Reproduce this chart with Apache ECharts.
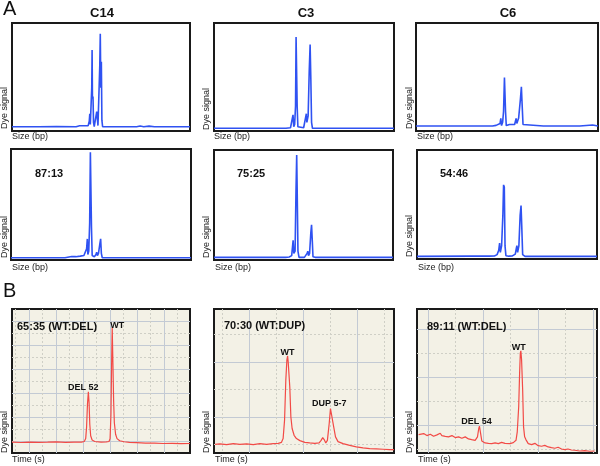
<!DOCTYPE html>
<html><head><meta charset="utf-8">
<script src="https://cdn.jsdelivr.net/npm/echarts@6/dist/echarts.min.js"></script>
<style>html,body{margin:0;padding:0;background:#fff}#c{width:600px;height:466px}</style>
</head><body><div id="c"></div>
<script>
// ---------- DATA ----------
const sectionLetters = ['A', 'B'];
const panelTitles = ['C14', 'C3', 'C6'];
const ratioLabelsA = ['87:13', '75:25', '54:46'];
const ratioLabelsB = ['65:35 (WT:DEL)', '70:30 (WT:DUP)', '89:11 (WT:DEL)'];
const axisNameY = 'Dye signal';
const axisNameXA = 'Size (bp)';
const axisNameXB = 'Time (s)';

// Panel A, row 1 (x: relative size position 0-100, y: relative dye signal 0-100)
const traceC14Top = [[0,4],[15,4],[25,4.2],[36,4],[38,4.8],[39,4],[40.5,4.8],[41.5,4],[42.8,5],[43.4,9],[43.7,16],[44.0,6],[44.4,5],[44.8,40],[45.0,75],[45.2,30],[45.5,32],[45.8,8],[46.2,4],[47.0,4.5],[47.6,18],[47.9,19],[48.3,5],[48.8,6],[49.3,60],[49.6,90],[49.9,40],[50.2,64],[50.5,10],[50.9,4],[53,4],[70,4],[72,4.6],[74,4],[77,4.5],[80,4],[100,4]];
const traceC3Top = [[0,2.5],[30,2.5],[40,2.5],[42.5,3],[43.3,3.5],[43.9,15],[44.3,4],[44.8,6],[45.3,23],[45.6,87],[45.9,86],[46.2,23],[46.6,4],[47.2,2.5],[49.8,3],[50.6,4],[51.3,16],[51.6,8],[52.3,14],[52.9,55],[53.4,80],[53.8,48],[54.2,8],[54.7,2.5],[56,2.5],[100,2.5]];
const traceC6Top = [[0,4.6],[32,4.6],[42,4.6],[44,5.2],[45,4.6],[46.2,7],[46.6,11.7],[47,5],[47.6,8],[48.1,18],[48.6,49.5],[48.9,48],[49.2,18],[49.6,5],[50.6,5],[51.4,6],[52.2,5],[54.2,6],[55.0,11.7],[55.4,7],[56.4,12],[57.4,30],[57.9,41],[58.3,25],[58.8,6],[59.5,4.6],[70,4.6],[90,4.6],[97,5.5],[98,4.6],[100,4.6]];
// Panel A, row 2
const traceC14Bot = [[0,2],[30,2],[33.7,3.2],[34.5,2],[36,3],[37,2],[38.5,3.5],[39.5,2.2],[40.5,4],[41.2,3],[42.0,10],[42.4,19],[42.7,5],[43.2,8],[43.7,33],[44.1,97],[44.4,96],[44.7,30],[45.1,4],[46.3,3],[47.2,5],[47.6,7],[48.0,4],[48.6,6],[49.4,15],[49.8,19],[50.2,6],[50.7,2],[55,2],[100,2]];
const traceC3Bot = [[0,2.4],[35,2.4],[40,2.4],[42,2.8],[43.4,4],[44.2,18],[44.6,6],[45.3,8],[45.8,62],[46.2,95.5],[46.5,60],[46.9,8],[47.5,2.4],[50.5,2.4],[51.3,3],[52.0,6],[52.4,8],[52.8,4],[53.4,6],[54.1,25],[54.5,32],[54.9,18],[55.3,3],[56.5,2.4],[100,2.4]];
const traceC6Bot = [[0,2.4],[30,2.6],[40,2.6],[43,2.8],[44.5,4],[45.4,8],[45.9,14.6],[46.3,6],[47.0,12],[47.7,40],[48.1,68],[48.5,66],[48.9,12],[49.4,3],[51,2.6],[53,2.8],[54.6,4.5],[55.2,10],[55.5,12.2],[55.9,6],[56.6,12],[57.3,40],[57.8,49],[58.2,30],[58.7,4],[60,2.4],[100,2.4]];
// Panel B traces (x: relative time 0-100, y: relative dye signal 0-100)
const traceB1 = [[0,7.5],[5,7.3],[10,7.6],[15,7.4],[20,7.5],[25,7.7],[30,7.4],[35,7.6],[39,7.5],[40.6,8],[41.4,10],[41.9,18],[42.4,34],[42.9,42.5],[43.3,35],[43.7,20],[44.2,12],[45,9],[46.5,8],[50,7.6],[53,7.7],[54.5,8],[55.1,10],[55.6,27],[56.0,65],[56.3,87],[56.7,62],[57.1,36],[57.5,21],[58.2,13],[59,10],[60.5,8.5],[63,7.8],[66,7.4],[70,7.2],[75,6.9],[80,6.8],[85,6.6],[90,6.7],[95,6.5],[100,6.6]];
const traceB2 = [[0.6,6.0],[3.3,6.3],[7.0,5.8],[10.7,6.5],[14.4,6.0],[18.1,6.3],[21.8,5.8],[25.5,6.5],[29.2,6.0],[32.9,6.5],[35.7,6.7],[37.5,7.4],[38.4,10.0],[39.2,22.8],[39.9,50.7],[40.5,64.7],[40.9,67.4],[41.2,63.5],[41.6,64.7],[42.1,46.0],[42.7,25.1],[43.4,17.0],[44.5,12.3],[45.8,10.0],[47.7,8.6],[50.5,7.4],[53.2,7.0],[56.0,6.7],[58.4,7.0],[59.5,8.8],[60.4,10.7],[61.2,9.3],[62.1,7.0],[63.0,8.8],[64.0,20.5],[64.7,30.9],[65.2,32.1],[65.8,29.8],[66.5,18.1],[67.5,11.2],[68.9,7.9],[71.7,6.5],[75.4,5.3],[79.1,4.2],[82.8,3.5],[86.5,3.0],[90.2,2.8],[93.9,2.6],[97.6,2.3],[100,2.3]];
const traceB3 = [[0.9,12.8],[1.8,12.3],[3.7,13.5],[5.5,12.1],[7.4,13.0],[9.2,11.6],[11.1,12.6],[12.9,13.7],[13.8,12.1],[15.7,11.6],[17.5,11.2],[19.4,12.1],[21.2,10.7],[23.1,11.2],[24.9,10.2],[26.8,11.2],[27.7,12.3],[28.6,9.8],[30.4,9.3],[32.3,8.8],[33.6,11.2],[34.3,17.0],[34.7,18.6],[35.2,14.7],[36.0,8.4],[37.8,7.0],[39.7,6.7],[41.5,6.5],[43.4,7.0],[45.2,6.5],[47.0,7.4],[48.9,6.7],[49.8,7.9],[51.7,6.5],[53.5,7.2],[55.0,8.8],[55.7,14.7],[56.5,32.1],[57.0,55.3],[57.4,69.3],[57.7,70.9],[58.1,64.7],[58.7,43.7],[59.2,18.1],[59.8,11.2],[60.5,9.3],[61.8,6.5],[63.7,5.8],[65.5,6.7],[67.3,5.1],[69.2,4.7],[71.0,5.3],[72.9,4.2],[74.7,3.7],[76.6,3.3],[78.4,4.0],[80.3,2.8],[82.1,2.3],[83.9,2.8],[85.8,2.1],[87.6,1.9],[90.4,1.4],[93.2,1.6],[95.9,1.2],[98.7,1.4]];
// Labelled peaks in panel B: [name, x, y]
const peaksB1 = [['DEL 52', 42.9, 42.5], ['WT', 56.3, 87]];
const peaksB2 = [['WT', 40.9, 67.4], ['DUP 5-7', 65.2, 32.1]];
const peaksB3 = [['DEL 54', 34.7, 18.6], ['WT', 57.7, 70.9]];

// ---------- LAYOUT / STYLE ----------
const FONT = '"Liberation Sans", Arial, Helvetica, sans-serif';
const BLUE = '#2f52f2';
const RED = '#f24a46';
const panels = [
  {box:[12,23,178,108],  data:traceC14Top, color:BLUE, yname:[5,129], xname:[12,137], xtext:axisNameXA},
  {box:[214,23,180,108], data:traceC3Top,  color:BLUE, yname:[207,130], xname:[214,137], xtext:axisNameXA},
  {box:[416,23,182,108], data:traceC6Top,  color:BLUE, yname:[410,129], xname:[417,137], xtext:axisNameXA},
  {box:[11,149,180,111], data:traceC14Bot, color:BLUE, yname:[5,258], xname:[12,268], xtext:axisNameXA},
  {box:[214,150,179,110],data:traceC3Bot,  color:BLUE, yname:[207,258], xname:[215,268], xtext:axisNameXA},
  {box:[417,150,180,109],data:traceC6Bot,  color:BLUE, yname:[410,257], xname:[418,268], xtext:axisNameXA},
  {box:[12,309,178,144], data:traceB1, color:RED, yname:[5,453], xname:[12,460], xtext:axisNameXB, peaks:peaksB1,
     gx:[-17,161,27], gy:[-12,132,24], offs:[[-5,1],[5,3]]},
  {box:[214,309,180,144],data:traceB2, color:RED, yname:[207,453], xname:[215,460], xtext:axisNameXB, peaks:peaksB2,
     gx:[-35,145,54], gy:[-36,108,55], offs:[[0,2],[-2,2]]},
  {box:[417,309,180,144],data:traceB3, color:RED, yname:[410,453], xname:[418,460], xtext:axisNameXB, peaks:peaksB3,
     gx:[-11,169,55], gy:[-28,116,48], offs:[[-3,1],[-2,2]]}
];

const grid = [], xAxis = [], yAxis = [], series = [], graphic = [];
const hidden = {axisLine:{show:false}, axisTick:{show:false}, axisLabel:{show:false}};
panels.forEach((p, i) => {
  const isB = i >= 6;
  grid.push({left:p.box[0], top:p.box[1], width:p.box[2], height:p.box[3], show:true,
    borderColor:'#1a1a1a', borderWidth:2, backgroundColor: isB ? '#f3f1e6' : '#ffffff'});
  const xi = xAxis.length, yi = yAxis.length;
  xAxis.push(Object.assign({type:'value', gridIndex:i, min:0, max:100, splitLine:{show:false}}, hidden));
  yAxis.push(Object.assign({type:'value', gridIndex:i, min:0, max:100, splitLine:{show:false}}, hidden));
  if (isB) {
    xAxis.push(Object.assign({type:'value', gridIndex:i, position:'top', min:p.gx[0], max:p.gx[1],
      minInterval:p.gx[2], maxInterval:p.gx[2], splitNumber:3,
      splitLine:{show:true, showMinLine:false, showMaxLine:false, lineStyle:{color:'#c3cad4', width:1}},
      minorTick:{show:false, splitNumber:2},
      minorSplitLine:{show:true, lineStyle:{color:'#cfcfc6', width:1, type:[2,2]}}}, hidden));
    yAxis.push(Object.assign({type:'value', gridIndex:i, position:'right', min:p.gy[0], max:p.gy[1],
      minInterval:p.gy[2], maxInterval:p.gy[2], splitNumber:3,
      splitLine:{show:true, showMinLine:false, showMaxLine:false, lineStyle:{color:'#c3cad4', width:1}},
      minorTick:{show:false, splitNumber:2},
      minorSplitLine:{show:true, lineStyle:{color:'#cfcfc6', width:1, type:[2,2]}}}, hidden));
  }
  const s = {type:'line', xAxisIndex:xi, yAxisIndex:yi, data:p.data, showSymbol:false, symbol:'none',
    lineStyle:{color:p.color, width: isB ? 1.2 : 1.6}, itemStyle:{color:p.color}, z:3, silent:true};
  if (p.peaks) {
    s.markPoint = {symbol:'circle', symbolSize:0, silent:true,
      data: p.peaks.map((pk, k) => ({coord:[pk[1], pk[2]],
        label:{show:true, formatter:pk[0], position:'top', distance:1, offset:p.offs[k],
          fontFamily:FONT, fontWeight:'bold', fontSize:9, color:'#111'}}))};
  }
  series.push(s);
  // axis names
  graphic.push({type:'text', x:p.yname[0], y:p.yname[1], rotation:Math.PI/2,
    style:{text:axisNameY, font:'9px ' + FONT, fill:'#222', textAlign:'left', textVerticalAlign:'middle'}});
  graphic.push({type:'text', x:p.xname[0], y:p.xname[1],
    style:{text:p.xtext, font:'9px ' + FONT, fill:'#222', textAlign:'left', textVerticalAlign:'middle'}});
});
// titles
graphic.push({type:'text', x:3, y:9, style:{text:sectionLetters[0], font:'20px ' + FONT, fill:'#111', textVerticalAlign:'middle'}});
graphic.push({type:'text', x:3, y:291, style:{text:sectionLetters[1], font:'20px ' + FONT, fill:'#111', textVerticalAlign:'middle'}});
[[102,13],[306,13],[508,13]].forEach((c, k) => graphic.push({type:'text', x:c[0], y:c[1],
  style:{text:panelTitles[k], font:'bold 13px ' + FONT, fill:'#111', textAlign:'center', textVerticalAlign:'middle'}}));
[[35,174],[237,174],[440,174]].forEach((c, k) => graphic.push({type:'text', x:c[0], y:c[1],
  style:{text:ratioLabelsA[k], font:'bold 11px ' + FONT, fill:'#111', textAlign:'left', textVerticalAlign:'middle'}}));
[[17,327],[224,326],[427,327]].forEach((c, k) => graphic.push({type:'text', x:c[0], y:c[1], z:10,
  style:{text:ratioLabelsB[k], font:'bold 11px ' + FONT, fill:'#111', textAlign:'left', textVerticalAlign:'middle'}}));

const chart = echarts.init(document.getElementById('c'), null, {renderer:'canvas'});
chart.setOption({animation:false, backgroundColor:'#ffffff', grid, xAxis, yAxis, series, graphic});
</script></body></html>
